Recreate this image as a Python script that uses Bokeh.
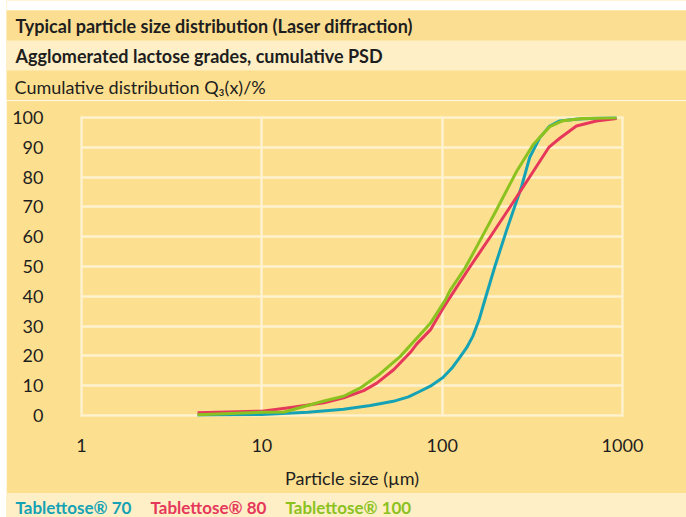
from bokeh.plotting import figure
from bokeh.layouts import column, row
from bokeh.models import BoxAnnotation, Label, Range1d, FixedTicker, NumeralTickFormatter, Spacer
from bokeh.embed import file_html
from bokeh.resources import INLINE

# ---------------- data ----------------
x_ticks = [1, 10, 100, 1000]
y_ticks = [0, 10, 20, 30, 40, 50, 60, 70, 80, 90, 100]

t70_x = [4.4, 10, 18, 28.4, 40, 53.6, 65, 75, 86, 101, 113, 125, 137, 148, 160, 172, 196, 228, 276, 306, 348, 395, 449, 550, 700, 927]
t70_y = [0.0, 0.3, 1.0, 2.0, 3.3, 4.7, 6.2, 8.0, 9.8, 12.7, 15.8, 19.4, 22.8, 26.6, 32.0, 38.5, 50.0, 62.3, 77.0, 86.7, 93.3, 97.2, 98.9, 99.5, 99.8, 100.0]

t80_x = [4.4, 10, 14.5, 22.1, 28.4, 36.7, 43.4, 53.8, 66.3, 72.4, 86, 100, 108, 143, 185, 238, 305, 390, 449, 555, 716, 927]
t80_y = [0.9, 1.4, 2.6, 4.2, 5.9, 8.3, 10.8, 15.3, 21.0, 24.0, 28.7, 35.5, 38.7, 50.0, 60.0, 70.0, 80.0, 90.0, 93.1, 97.2, 98.9, 99.7]

t100_x = [4.4, 10, 13.3, 22.1, 28.4, 35.2, 45, 58.6, 86, 104, 110.7, 134, 155, 200, 259, 320, 395, 468, 600, 927]
t100_y = [0.2, 1.0, 1.1, 4.8, 6.4, 9.2, 13.8, 19.8, 30.9, 38.7, 42.0, 49.5, 56.5, 69.0, 82.0, 91.0, 97.0, 99.0, 99.7, 100.0]

series_names = ["Tablettose\u00ae 70", "Tablettose\u00ae 80", "Tablettose\u00ae 100"]
series_colors = ["#16A2B5", "#E5385B", "#8CC21F"]

title1 = "Typical particle size distribution (Laser diffraction)"
title2 = "Agglomerated lactose grades, cumulative PSD"
y_title = "Cumulative distribution Q\u2083(x)/%"
x_title = "Particle size (\u00b5m)"

# ---------------- style ----------------
BG = "#FDE08F"
BAND1 = "#FCDE93"
LIGHT = "#FEEFC6"
GRID = "#FEF2CF"
TXT = "#1E1E1E"
FONT = "Lato"

W = 680
H_TOP, H_MAIN, H_LEG = 100, 393, 24


def strip(h):
    f = figure(width=W, height=h, x_range=Range1d(0, W), y_range=Range1d(h, 0),
               output_backend="svg", toolbar_location=None,
               x_axis_location=None, y_axis_location=None,
               min_border_left=0, min_border_right=0, min_border_top=0, min_border_bottom=0)
    f.frame_align = False
    f.grid.visible = False
    f.outline_line_color = None
    f.background_fill_color = BG
    f.border_fill_color = BG
    return f


def band(f, top, bottom, color):
    f.add_layout(BoxAnnotation(left=0, right=W, top=top, bottom=bottom,
                               fill_color=color, fill_alpha=1.0, line_color=None,
                               level="underlay"))


def label(f, x, y, text, color=TXT, bold=False, size="18px"):
    f.add_layout(Label(x=x, y=y, text=text, text_color=color, text_font=FONT,
                       text_font_size=size, text_font_style="bold" if bold else "normal",
                       text_baseline="middle", text_align="left"))


# ---- top header ----
top = strip(H_TOP)
band(top, 0, 10, "white")
band(top, 10, 40, BAND1)
band(top, 40, 70, LIGHT)
label(top, 9, 25, title1, bold=True, size="18px")
label(top, 9, 55, title2, bold=True, size="18px")
label(top, 8, 86, y_title)

# ---- main chart ----
p = figure(width=W, height=H_MAIN, x_axis_type="log",
           x_range=Range1d(1 / 1.013, 1000 * 1.013), y_range=Range1d(-0.4, 100.4),
           output_backend="svg", toolbar_location=None,
           min_border_left=74, min_border_right=63, min_border_top=16, min_border_bottom=77)
p.frame_align = False
p.border_fill_color = BG
p.background_fill_color = BG
p.outline_line_color = None

for ax in (p.xaxis[0], p.yaxis[0]):
    ax.axis_line_color = None
    ax.major_tick_line_color = None
    ax.minor_tick_line_color = None
    ax.major_tick_out = 0
    ax.major_tick_in = 0
    ax.minor_tick_out = 0
    ax.minor_tick_in = 0
    ax.major_label_text_font = FONT
    ax.major_label_text_font_size = "18px"
    ax.major_label_text_color = TXT

p.xaxis.ticker = FixedTicker(ticks=x_ticks)
p.xaxis.formatter = NumeralTickFormatter(format="0")
p.xaxis.major_label_standoff = 22
p.xaxis.axis_label = x_title
p.xaxis.axis_label_text_font = FONT
p.xaxis.axis_label_text_font_style = "normal"
p.xaxis.axis_label_text_font_size = "18px"
p.xaxis.axis_label_text_color = TXT
p.xaxis.axis_label_standoff = 12

p.yaxis.ticker = FixedTicker(ticks=y_ticks)
p.yaxis.major_label_standoff = 37

p.xgrid.ticker = FixedTicker(ticks=x_ticks)
p.ygrid.ticker = FixedTicker(ticks=y_ticks)
for g in (p.xgrid[0], p.ygrid[0]):
    g.grid_line_color = GRID
    g.grid_line_width = 2.5
    g.grid_line_alpha = 1.0

for xs, ys, col in zip([t70_x, t80_x, t100_x], [t70_y, t80_y, t100_y], series_colors):
    p.line(xs, ys, line_color=col, line_width=3, line_join="round")

# ---- legend strip ----
leg = strip(H_LEG)
band(leg, 0, H_LEG, LIGHT)
leg_x = [9, 144, 279]
for lx, name, col in zip(leg_x, series_names, series_colors):
    label(leg, lx, 14, name, color=col, bold=True, size="17px")

layout = row(Spacer(width=6, height=H_TOP + H_MAIN + H_LEG),
             column(top, p, leg, spacing=0), spacing=0)

html = file_html(layout, INLINE)
open("out.html", "w").write(html)
